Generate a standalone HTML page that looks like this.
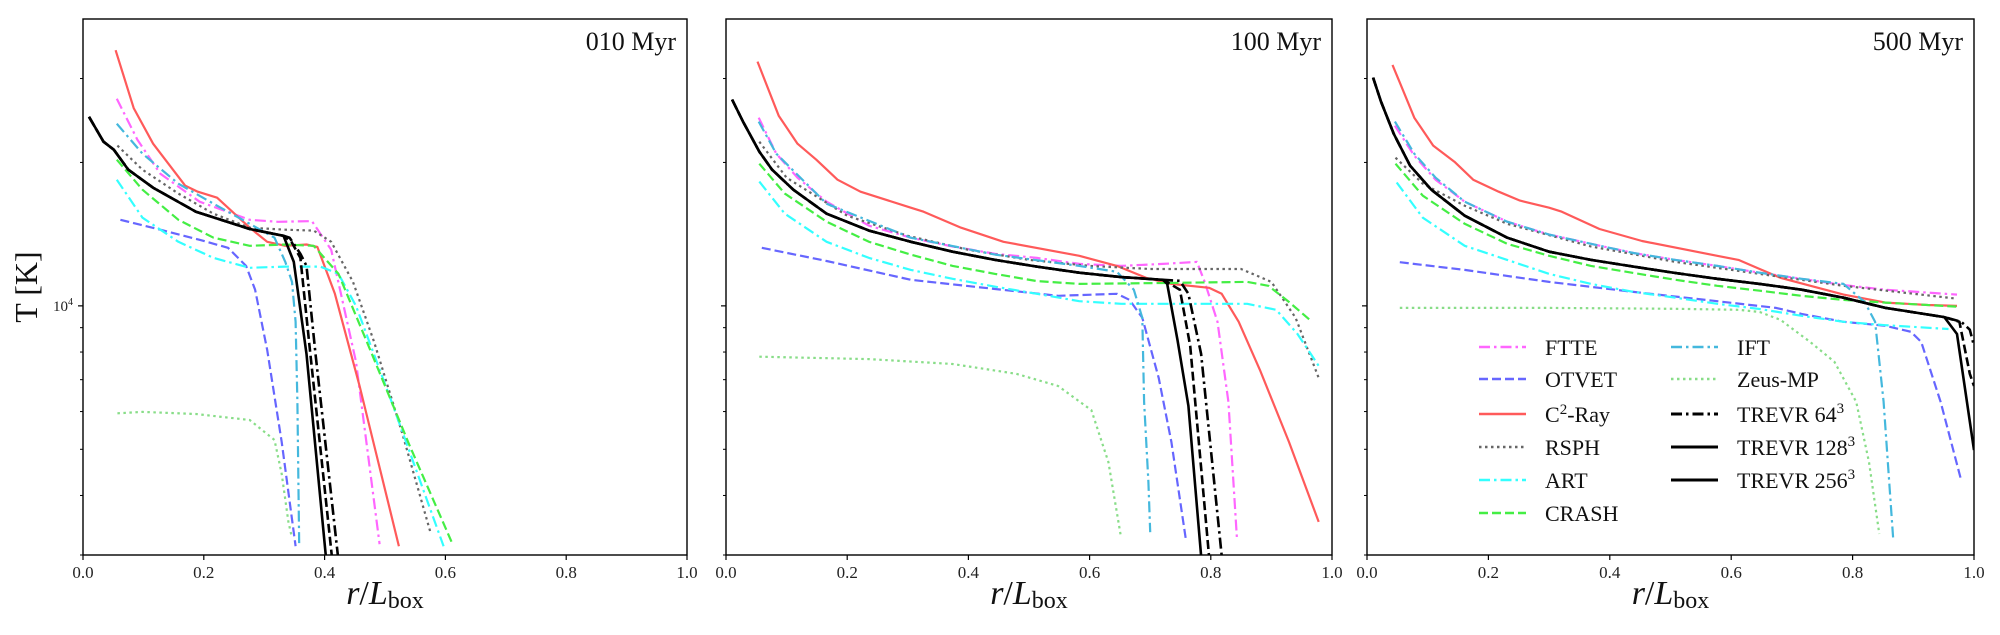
<!DOCTYPE html>
<html><head><meta charset="utf-8"><style>
html,body{margin:0;padding:0;background:#fff;}
svg text{font-family:"Liberation Serif",serif;}
</style></head><body>
<svg id="chart" width="2000" height="630" viewBox="0 0 2000 630" xmlns="http://www.w3.org/2000/svg"></svg>
<script>
// ---- Panel 1: 010 Myr ----
const p1_ftte_r=[0.056,0.09,0.128,0.193,0.276,0.323,0.379,0.411,0.452,0.491];
const p1_ftte_T=[27200,22320,18940,16540,15160,15010,15060,13110,7630,3160];
const p1_otvet_r=[0.062,0.128,0.193,0.24,0.27,0.285,0.305,0.329,0.352];
const p1_otvet_T=[15160,14450,13760,13240,12130,10810,8080,5180,3130];
const p1_c2_r=[0.054,0.084,0.116,0.169,0.19,0.222,0.276,0.305,0.335,0.37,0.388,0.417,0.458,0.523];
const p1_c2_T=[34400,26000,21890,17880,17360,16870,14590,13630,13370,13450,13290,10600,6790,3130];
const p1_rsph_r=[0.057,0.0985,0.158,0.216,0.276,0.335,0.382,0.411,0.447,0.482,0.529,0.576];
const p1_rsph_T=[21690,19310,17200,15610,14590,14450,14390,13630,11230,8400,5380,3320];
const p1_art_r=[0.056,0.0985,0.158,0.216,0.276,0.335,0.393,0.423,0.452,0.511,0.597];
const p1_art_T=[18400,15310,13630,12610,12020,12090,12090,11670,10000,6290,3130];
const p1_crash_r=[0.056,0.0985,0.158,0.216,0.276,0.335,0.382,0.423,0.47,0.541,0.612];
const p1_crash_T=[20270,17530,15160,13900,13370,13450,13370,11670,8400,5080,3160];
const p1_ift_r=[0.056,0.0985,0.158,0.216,0.276,0.317,0.335,0.346,0.352,0.355,0.358];
const p1_ift_T=[24120,20860,18050,16380,14870,13900,12370,11230,9260,6290,3130];
const p1_zeus_r=[0.057,0.0985,0.187,0.276,0.317,0.329,0.34,0.346];
const p1_zeus_T=[5950,5990,5930,5760,5230,4440,3520,3260];
const p1_t64_r=[0.01,0.034,0.051,0.075,0.116,0.187,0.276,0.332,0.342,0.36,0.37,0.385,0.422];
const p1_t64_T=[24930,22110,21270,19310,17700,15760,14500,14030,13900,12860,12130,7930,2990];
const p1_t128_r=[0.01,0.034,0.051,0.075,0.116,0.187,0.276,0.332,0.349,0.37,0.402];
const p1_t128_T=[24930,22110,21270,19310,17700,15760,14500,14030,12370,7930,2990];
const p1_t256_r=[0.01,0.034,0.051,0.075,0.116,0.187,0.276,0.332,0.345,0.36,0.375,0.412];
const p1_t256_T=[24930,22110,21270,19310,17700,15760,14500,14030,13630,12610,8240,2990];
// ---- Panel 2: 100 Myr ----
const p2_ftte_r=[0.054,0.083,0.118,0.166,0.236,0.305,0.374,0.444,0.513,0.583,0.652,0.721,0.777,0.79,0.811,0.829,0.843];
const p2_ftte_T=[24830,20860,18580,16540,14730,13900,13320,12860,12610,12250,12130,12250,12370,11230,9260,6290,3260];
const p2_otvet_r=[0.059,0.166,0.305,0.444,0.548,0.645,0.666,0.687,0.714,0.735,0.759];
const p2_otvet_T=[13240,12420,11340,10850,10500,10600,10290,9440,7060,5180,3220];
const p2_c2_r=[0.052,0.087,0.118,0.149,0.184,0.222,0.305,0.326,0.388,0.458,0.583,0.645,0.693,0.735,0.797,0.818,0.846,0.881,0.929,0.978];
const p2_c2_T=[32550,25070,21890,20270,18400,17360,16070,15760,14590,13630,12740,12130,11450,11120,10910,10600,9260,7340,5180,3520];
const p2_rsph_r=[0.055,0.1,0.2,0.3,0.4,0.5,0.6,0.7,0.8,0.85,0.9,0.94,0.978];
const p2_rsph_T=[22110,18580,15460,14030,13110,12490,12130,11950,11950,11950,11230,9440,7060];
const p2_art_r=[0.055,0.097,0.166,0.236,0.305,0.374,0.444,0.513,0.583,0.652,0.721,0.86,0.908,0.943,0.978];
const p2_art_T=[18230,15610,13630,12610,11900,11400,10970,10600,10230,10100,10100,10100,9810,8730,7480];
const p2_crash_r=[0.055,0.097,0.166,0.236,0.305,0.374,0.444,0.513,0.583,0.721,0.86,0.895,0.929,0.967];
const p2_crash_T=[19880,17200,15020,13630,12810,12130,11670,11270,11120,11170,11230,11020,10190,9260];
const p2_ift_r=[0.054,0.083,0.166,0.305,0.444,0.583,0.645,0.673,0.687,0.69,0.697,0.7];
const p2_ift_T=[24360,20860,16380,13900,12810,12130,11790,10810,9440,6290,4270,3350];
const p2_zeus_r=[0.055,0.236,0.374,0.479,0.548,0.603,0.631,0.652];
const p2_zeus_T=[7820,7730,7550,7200,6790,6040,4700,3260];
const p2_t64_r=[0.01,0.028,0.055,0.076,0.111,0.166,0.236,0.305,0.374,0.444,0.513,0.583,0.652,0.721,0.749,0.763,0.784,0.818];
const p2_t64_T=[27090,24360,21070,19310,17530,15610,14390,13630,12990,12490,12090,11740,11490,11340,11290,10600,7930,2990];
const p2_t128_r=[0.01,0.028,0.055,0.076,0.111,0.166,0.236,0.305,0.374,0.444,0.513,0.583,0.652,0.721,0.728,0.745,0.763,0.784];
const p2_t128_T=[27090,24360,21070,19310,17530,15610,14390,13630,12990,12490,12090,11740,11490,11340,11120,8480,6170,2990];
const p2_t256_r=[0.01,0.028,0.055,0.076,0.111,0.166,0.236,0.305,0.374,0.444,0.513,0.583,0.652,0.721,0.749,0.766,0.797];
const p2_t256_T=[27090,24360,21070,19310,17530,15610,14390,13630,12990,12490,12090,11740,11490,11340,10810,8240,2990];
// ---- Panel 3: 500 Myr ----
const p3_ftte_r=[0.046,0.078,0.113,0.161,0.231,0.3,0.369,0.439,0.508,0.577,0.647,0.716,0.785,0.854,0.972];
const p3_ftte_T=[23890,20660,18400,16540,15020,14110,13500,12910,12490,12130,11740,11400,11060,10810,10560];
const p3_otvet_r=[0.054,0.161,0.3,0.439,0.577,0.674,0.716,0.785,0.854,0.896,0.913,0.945,0.978];
const p3_otvet_T=[12350,11900,11230,10700,10230,9900,9620,9260,9080,8820,8400,6290,4350];
const p3_c2_r=[0.042,0.078,0.109,0.144,0.175,0.217,0.252,0.3,0.321,0.383,0.453,0.577,0.612,0.647,0.681,0.785,0.854,0.924,0.972];
const p3_c2_T=[32050,24830,21690,20070,18400,17360,16630,16070,15760,14500,13680,12740,12490,11950,11450,10560,10160,10040,10000];
const p3_rsph_r=[0.047,0.092,0.161,0.231,0.369,0.508,0.647,0.785,0.972];
const p3_rsph_T=[20460,18050,16230,14870,13320,12370,11670,11020,10350];
const p3_art_r=[0.049,0.092,0.161,0.231,0.3,0.369,0.439,0.508,0.577,0.647,0.716,0.785,0.854,0.958];
const p3_art_T=[18150,15310,13370,12490,11670,11120,10700,10400,10100,9850,9530,9260,9110,8940];
const p3_crash_r=[0.047,0.092,0.161,0.231,0.3,0.369,0.439,0.508,0.577,0.647,0.716,0.785,0.854,0.972];
const p3_crash_T=[19880,17030,14870,13500,12740,12130,11720,11340,11020,10760,10500,10290,10160,9960];
const p3_ift_r=[0.046,0.078,0.113,0.161,0.231,0.3,0.369,0.439,0.508,0.577,0.647,0.716,0.785,0.82,0.837,0.851,0.867];
const p3_ift_T=[24360,20860,18580,16540,15020,14110,13500,12910,12490,12130,11740,11400,11120,10190,9260,6290,3220];
const p3_zeus_r=[0.054,0.3,0.508,0.612,0.647,0.681,0.73,0.77,0.806,0.827,0.844];
const p3_zeus_T=[9900,9900,9860,9810,9710,9350,8400,7630,6290,4700,3320];
const p3_t64_r=[0.01,0.023,0.044,0.071,0.106,0.161,0.231,0.3,0.369,0.439,0.508,0.577,0.647,0.716,0.785,0.854,0.951,0.979,0.993,1.0];
const p3_t64_T=[30130,26830,22980,19690,17530,15460,13900,12990,12490,12090,11720,11400,11120,10810,10400,9900,9470,9260,8910,8240];
const p3_t128_r=[0.01,0.023,0.044,0.071,0.106,0.161,0.231,0.3,0.369,0.439,0.508,0.577,0.647,0.716,0.785,0.854,0.951,0.972,1.0];
const p3_t128_T=[30130,26830,22980,19690,17530,15460,13900,12990,12490,12090,11720,11400,11120,10810,10400,9900,9470,8730,4980];
const p3_t256_r=[0.01,0.023,0.044,0.071,0.106,0.161,0.231,0.3,0.369,0.439,0.508,0.577,0.647,0.716,0.785,0.854,0.951,0.976,0.993,1.0];
const p3_t256_T=[30130,26830,22980,19690,17530,15460,13900,12990,12490,12090,11720,11400,11120,10810,10400,9900,9470,9260,7200,6790];

const panelTitles=["010 Myr","100 Myr","500 Myr"];
const xTickLabels=["0.0","0.2","0.4","0.6","0.8","1.0"];
const xTickValues=[0,0.2,0.4,0.6,0.8,1.0];
const yMinorTicks=[3000,4000,5000,6000,7000,8000,9000,20000,30000];
const yMajorTicks=[10000];
const legendLabels=["FTTE","OTVET","C2-Ray","RSPH","ART","CRASH","IFT","Zeus-MP","TREVR 64","TREVR 128","TREVR 256"];

const styles={
 ftte:{c:"#ff66ff",w:2.2,d:"11,4,2.5,4"},
 otvet:{c:"#6666ff",w:2.2,d:"9,4"},
 c2:{c:"#ff5a5a",w:2.2,d:""},
 rsph:{c:"#666666",w:2.2,d:"2.5,3.5"},
 art:{c:"#33ffff",w:2.2,d:"11,4,2.5,4"},
 crash:{c:"#44ee44",w:2.2,d:"9,4"},
 ift:{c:"#44b8dd",w:2.2,d:"11,4,2.5,4"},
 zeus:{c:"#88dd88",w:2.2,d:"2.5,3.5"},
 t64:{c:"#000",w:2.6,d:"11,4,2.5,4"},
 t128:{c:"#000",w:2.6,d:""},
 t256:{c:"#000",w:2.6,d:"9,4"}
};
const order=["ftte","otvet","c2","rsph","art","crash","ift","zeus","t64","t256","t128"];
const panels=[{x0:83,x1:687},{x0:726,x1:1332},{x0:1367,x1:1974}];
const Y0=555,Y1=19,TMIN=3000,TMAX=40000;
const NS="http://www.w3.org/2000/svg";
const svg=document.getElementById('chart');
function el(tag,attrs,parent){const e=document.createElementNS(NS,tag);for(const k in attrs)e.setAttribute(k,attrs[k]);(parent||svg).appendChild(e);return e;}
function yScale(T){return Y0-(Math.log10(T)-Math.log10(TMIN))/(Math.log10(TMAX)-Math.log10(TMIN))*(Y0-Y1);}
const defs=el('defs',{});
const dataByPanel=[
 {ftte:[p1_ftte_r,p1_ftte_T],otvet:[p1_otvet_r,p1_otvet_T],c2:[p1_c2_r,p1_c2_T],rsph:[p1_rsph_r,p1_rsph_T],art:[p1_art_r,p1_art_T],crash:[p1_crash_r,p1_crash_T],ift:[p1_ift_r,p1_ift_T],zeus:[p1_zeus_r,p1_zeus_T],t64:[p1_t64_r,p1_t64_T],t128:[p1_t128_r,p1_t128_T],t256:[p1_t256_r,p1_t256_T]},
 {ftte:[p2_ftte_r,p2_ftte_T],otvet:[p2_otvet_r,p2_otvet_T],c2:[p2_c2_r,p2_c2_T],rsph:[p2_rsph_r,p2_rsph_T],art:[p2_art_r,p2_art_T],crash:[p2_crash_r,p2_crash_T],ift:[p2_ift_r,p2_ift_T],zeus:[p2_zeus_r,p2_zeus_T],t64:[p2_t64_r,p2_t64_T],t128:[p2_t128_r,p2_t128_T],t256:[p2_t256_r,p2_t256_T]},
 {ftte:[p3_ftte_r,p3_ftte_T],otvet:[p3_otvet_r,p3_otvet_T],c2:[p3_c2_r,p3_c2_T],rsph:[p3_rsph_r,p3_rsph_T],art:[p3_art_r,p3_art_T],crash:[p3_crash_r,p3_crash_T],ift:[p3_ift_r,p3_ift_T],zeus:[p3_zeus_r,p3_zeus_T],t64:[p3_t64_r,p3_t64_T],t128:[p3_t128_r,p3_t128_T],t256:[p3_t256_r,p3_t256_T]}
];
panels.forEach((p,i)=>{
 const xs=r=>p.x0+r*(p.x1-p.x0);
 const g=el('g',{});
 
 
 const cp=el('clipPath',{id:'clip'+i},defs);
 el('rect',{x:p.x0,y:Y1,width:p.x1-p.x0,height:Y0-Y1},cp);
 const lines=el('g',{'clip-path':'url(#clip'+i+')'},g);
 order.forEach(k=>{
  const [rs,Ts]=dataByPanel[i][k];const s=styles[k];
  const d=rs.map((r,j)=>(j?'L':'M')+xs(r).toFixed(1)+','+yScale(Ts[j]).toFixed(1)).join(' ');
  const path=el('path',{d:d,fill:'none',stroke:s.c,'stroke-width':s.w,'stroke-dasharray':s.d,'stroke-linejoin':'round'},lines);
  
  
 });
 const frame=el('rect',{x:p.x0,y:Y1,width:p.x1-p.x0,height:Y0-Y1,fill:'none',stroke:'#000','stroke-width':1.4},g);
 
 
 xTickValues.forEach((v,j)=>{
  el('line',{x1:xs(v),x2:xs(v),y1:Y0,y2:Y0+5,stroke:'#000','stroke-width':1.2},g);
  const t=el('text',{x:xs(v),y:Y0+23,'text-anchor':'middle','font-size':17,fill:'#222'},g);
  t.textContent=xTickLabels[j];
  
  
 });
 yMinorTicks.forEach(v=>{el('line',{x1:p.x0-3,x2:p.x0,y1:yScale(v),y2:yScale(v),stroke:'#000','stroke-width':1},g);});
 yMajorTicks.forEach(v=>{
  el('line',{x1:p.x0-5,x2:p.x0,y1:yScale(v),y2:yScale(v),stroke:'#000','stroke-width':1.2},g);
  if(i===0){
   const t=el('text',{x:p.x0-10,y:yScale(v)+5,'text-anchor':'end','font-size':15,fill:'#222'},g);
   t.innerHTML='10<tspan dy="-6" font-size="10">4</tspan>';
   
   
  }
 });
 const tt=el('text',{x:p.x1-11,y:50,'text-anchor':'end','font-size':26,fill:'#111'},g);
 tt.textContent=panelTitles[i];
 
 
 const xl=el('text',{x:(p.x0+p.x1)/2,y:604,'text-anchor':'middle','font-size':34,fill:'#111'},g);
 xl.innerHTML='<tspan font-style="italic">r</tspan>/<tspan font-style="italic">L</tspan><tspan font-size="24" dy="4">box</tspan>';
 
 
});
const yl=el('text',{x:0,y:0,transform:'translate(37,287) rotate(-90)','text-anchor':'middle','font-size':32,fill:'#111'});
yl.textContent='T [K]';


// legend
const leg=el('g',{});


const legKeys=["ftte","otvet","c2","rsph","art","crash","ift","zeus","t64","t128","t256"];
const rowsY=[354,386,421,454,487,520];
legKeys.forEach((k,j)=>{
 const col=j<6?0:1,row=j<6?j:j-6;
 const lx=col?1671:1479,tx=col?1737:1545,y=rowsY[row];
 const s=styles[k];
 const e=el('g',{},leg);
 
 
 el('line',{x1:lx,x2:lx+47,y1:y-7,y2:y-7,stroke:s.c,'stroke-width':s.w+0.3,'stroke-dasharray':k==='t256'?'':s.d},e);
 const t=el('text',{x:tx,y:y+1,'font-size':22,fill:'#111'},e);
 const lab=legendLabels[j];
 if(k==='c2')t.innerHTML='C<tspan dy="-8" font-size="15">2</tspan><tspan dy="8">-Ray</tspan>';
 else if(k.startsWith('t'))t.innerHTML=lab+'<tspan dy="-9" font-size="15">3</tspan>';
 else t.textContent=lab;
});
</script>
</body></html>
